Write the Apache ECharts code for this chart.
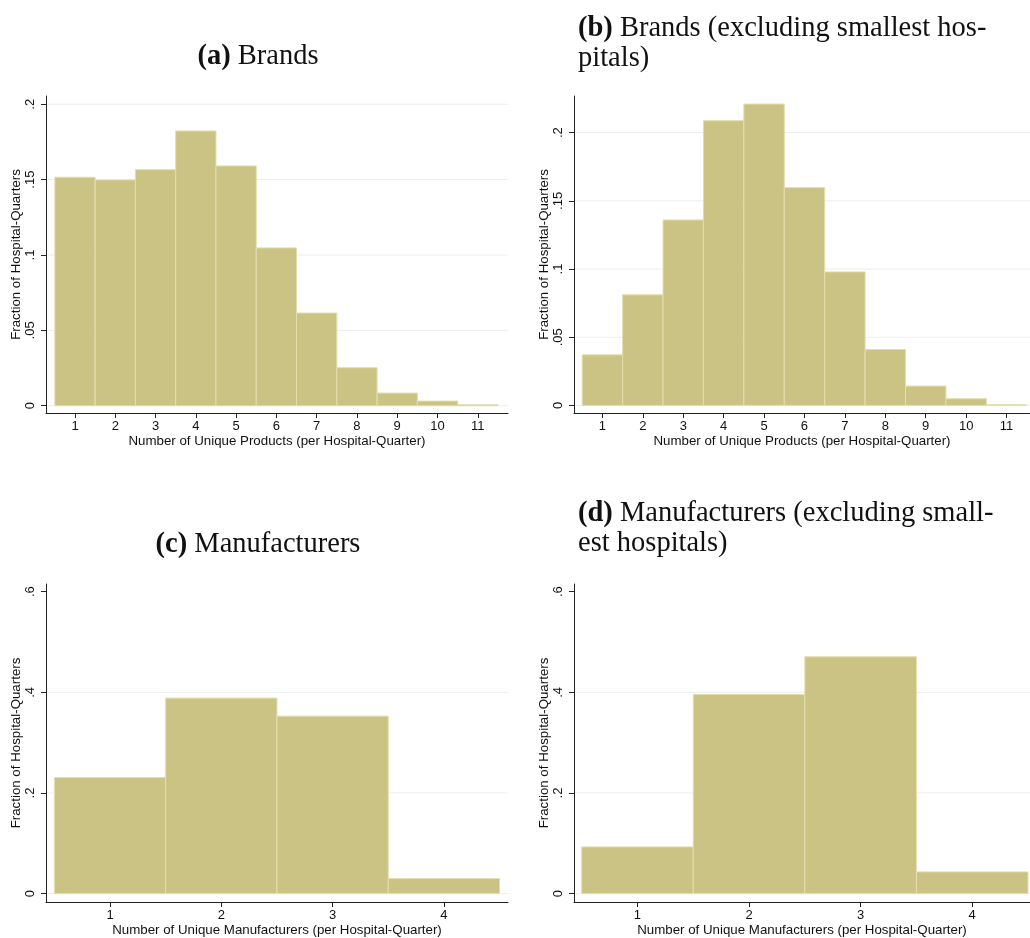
<!DOCTYPE html>
<html>
<head>
<meta charset="utf-8">
<script src="https://cdn.jsdelivr.net/npm/echarts@6/dist/echarts.min.js"></script>
<style>
  html, body { margin: 0; padding: 0; background: #fff; }
  #chart { width: 1030px; height: 938px; }
</style>
</head>
<body>
<div id="chart"></div>
<script>
// Histogram bins (number of unique products / manufacturers per hospital-quarter)
const productBins = [1, 2, 3, 4, 5, 6, 7, 8, 9, 10, 11];
const manufacturerBins = [1, 2, 3, 4];

// Fraction of hospital-quarters in each bin
const brandsAll = [0.1516, 0.1498, 0.1566, 0.1823, 0.1591, 0.1047, 0.0615, 0.0252, 0.0084, 0.0031, 0.0007];
const brandsLarge = [0.0371, 0.0811, 0.1360, 0.2088, 0.2210, 0.1597, 0.0979, 0.0410, 0.0142, 0.0049, 0.0005];
const manufacturersAll = [0.2307, 0.3885, 0.3527, 0.0298];
const manufacturersLarge = [0.0928, 0.3958, 0.4707, 0.0431];

// Tick values and the horizontal grid lines drawn at them
const brandYTicks = [0, 0.05, 0.1, 0.15, 0.2];
const manufacturerYTicks = [0, 0.2, 0.4, 0.6];
const brandGridLines = [0, 0.05, 0.1, 0.15, 0.2];
const manufacturerGridLines = [0, 0.2, 0.4];

// Panel titles
const panelTitles = [
  ['(a)', ' Brands'],
  ['(b)', ' Brands (excluding smallest hos-\npitals)'],
  ['(c)', ' Manufacturers'],
  ['(d)', ' Manufacturers (excluding small-\nest hospitals)']
];

const xNameBrands = 'Number of Unique Products (per Hospital-Quarter)';
const xNameManufacturers = 'Number of Unique Manufacturers (per Hospital-Quarter)';
const yName = 'Fraction of Hospital-Quarters';

const BAR_FILL = '#cbc383';
const BAR_EDGE = '#e3deae';
const GRID_LINE = '#e8eff0';
const AXIS_COLOR = '#222';
const SANS = '"Liberation Sans", Arial, Helvetica, sans-serif';
const SERIF = '"Liberation Serif", "Times New Roman", serif';

const chart = echarts.init(document.getElementById('chart'), null, { renderer: 'canvas' });

// Panel frames: plot areas and axis ranges
const panels = [
  { grid: { left: 46, top: 96, width: 462, height: 317 }, x: [0.28, 11.75], y: [-0.00484, 0.2055],
    bins: productBins, values: brandsAll, yTicks: brandYTicks, gridLines: brandGridLines, xName: xNameBrands },
  { grid: { left: 574, top: 96, width: 456, height: 317 }, x: [0.297, 11.58], y: [-0.00557, 0.2269],
    bins: productBins, values: brandsLarge, yTicks: brandYTicks, gridLines: brandGridLines, xName: xNameBrands },
  { grid: { left: 46, top: 584, width: 462, height: 318 }, x: [0.425, 4.576], y: [-0.0167, 0.6153],
    bins: manufacturerBins, values: manufacturersAll, yTicks: manufacturerYTicks, gridLines: manufacturerGridLines, xName: xNameManufacturers },
  { grid: { left: 574, top: 584, width: 456, height: 318 }, x: [0.431, 4.518], y: [-0.0167, 0.6153],
    bins: manufacturerBins, values: manufacturersLarge, yTicks: manufacturerYTicks, gridLines: manufacturerGridLines, xName: xNameManufacturers }
];

function yTickLabel(v) {
  if (v === 0) return '0';
  return String(+v.toFixed(4)).replace(/^0/, '');
}

const grids = [], xAxes = [], yAxes = [], series = [];

panels.forEach((p, i) => {
  grids.push(Object.assign({ containLabel: false }, p.grid));

  xAxes.push({
    type: 'value', gridIndex: i, min: p.x[0], max: p.x[1],
    name: p.xName, nameLocation: 'middle', nameGap: 22,
    nameTextStyle: { fontFamily: SANS, fontSize: 13.3, color: '#111' },
    axisLine: { show: true, onZero: false, lineStyle: { color: AXIS_COLOR, width: 1 } },
    axisTick: { show: true, length: 5, customValues: p.bins, lineStyle: { color: AXIS_COLOR } },
    axisLabel: { customValues: p.bins, fontFamily: SANS, fontSize: 13, color: '#111', margin: 7 },
    splitLine: { show: false }
  });

  yAxes.push({
    type: 'value', gridIndex: i, min: p.y[0], max: p.y[1],
    name: yName, nameLocation: 'middle', nameGap: 22, nameRotate: 90,
    nameTextStyle: { fontFamily: SANS, fontSize: 13.3, color: '#111' },
    axisLine: { show: true, onZero: false, lineStyle: { color: AXIS_COLOR, width: 1 } },
    axisTick: { show: true, length: 5, customValues: p.yTicks, lineStyle: { color: AXIS_COLOR } },
    axisLabel: {
      customValues: p.yTicks, formatter: yTickLabel, rotate: 90,
      align: 'center', verticalAlign: 'bottom', margin: 9,
      fontFamily: SANS, fontSize: 13, color: '#111'
    },
    splitLine: { show: false }
  });

  // horizontal grid lines, behind the bars
  series.push({
    type: 'custom', xAxisIndex: i, yAxisIndex: i, silent: true, z: 1,
    data: p.gridLines.map(v => [v]),
    renderItem: function (params, api) {
      const y = api.value(0);
      const a = api.coord([p.x[0], y]);
      const b = api.coord([p.x[1], y]);
      return {
        type: 'line',
        shape: { x1: a[0] + 1, y1: a[1], x2: b[0], y2: b[1] },
        style: { stroke: GRID_LINE, lineWidth: 1 }
      };
    }
  });

  // histogram bars, one unit wide centred on each bin
  series.push({
    type: 'custom', xAxisIndex: i, yAxisIndex: i, silent: true, z: 2,
    data: p.bins.map((b, k) => [b, p.values[k]]),
    renderItem: function (params, api) {
      const x = api.value(0), v = api.value(1);
      const p0 = api.coord([x - 0.5, 0]);
      const p1 = api.coord([x + 0.5, v]);
      return {
        type: 'rect',
        shape: { x: p0[0], y: p1[1], width: p1[0] - p0[0], height: p0[1] - p1[1] },
        style: { fill: BAR_FILL, stroke: BAR_EDGE, lineWidth: 1 }
      };
    }
  });
});

const titleStyle = {
  fontFamily: SERIF, fontSize: 28.5, fontWeight: 'normal', color: '#111', lineHeight: 30,
  rich: {
    b: { fontFamily: SERIF, fontSize: 28.5, fontWeight: 'bold', color: '#111', lineHeight: 30 }
  }
};

const titles = [
  { left: 258, top: 42, textAlign: 'center', idx: 0 },
  { left: 578, top: 14, idx: 1 },
  { left: 258, top: 530, textAlign: 'center', idx: 2 },
  { left: 578, top: 499, idx: 3 }
].map(t => ({
  left: t.left, top: t.top, textAlign: t.textAlign || 'left', padding: 0,
  text: '{b|' + panelTitles[t.idx][0] + '}' + panelTitles[t.idx][1],
  textStyle: titleStyle
}));

chart.setOption({
  backgroundColor: '#ffffff',
  animation: false,
  title: titles,
  grid: grids,
  xAxis: xAxes,
  yAxis: yAxes,
  series: series
});
</script>
</body>
</html>
